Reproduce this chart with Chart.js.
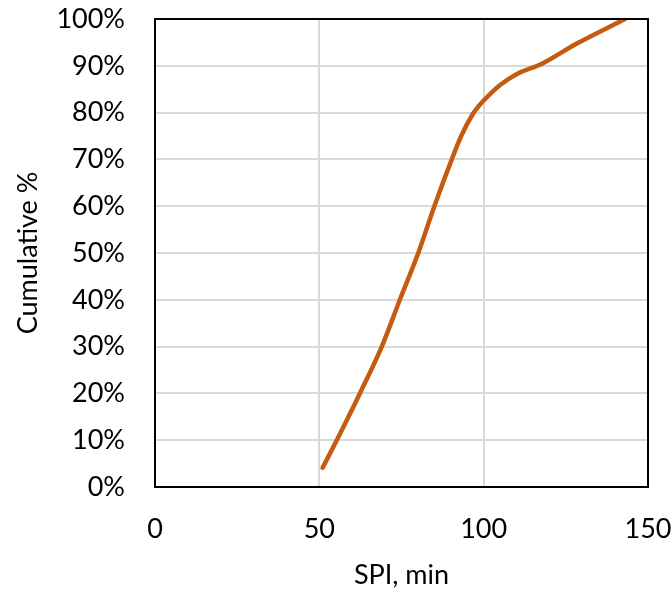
<!DOCTYPE html>
<html>
<head>
<meta charset="utf-8">
<script src="https://cdn.jsdelivr.net/npm/chart.js@4/dist/chart.umd.min.js"></script>
<style>
html,body{margin:0;padding:0;background:#fff;}
#wrap{width:672px;height:593px;position:relative;}
</style>
</head>
<body>
<div id="wrap"><canvas id="c" width="672" height="593"></canvas></div>
<script>
const spiMinutes = [51, 55.3, 62.4, 69, 74.5, 80.1, 85, 90.3, 93.3, 96.8, 98.5, 100.3, 105, 110, 117.9, 128.2, 143];
const cumulativePct = [4.1, 10, 20.1, 30, 40, 50, 60, 70, 75.2, 79.8, 81.4, 82.8, 85.9, 88.2, 90.5, 94.7, 100];
const xTicks = [0, 50, 100, 150];
const yTickStep = 10;

const points = spiMinutes.map((x, i) => ({x: x, y: cumulativePct[i]}));
const FONT = "Lato, 'Open Sans', sans-serif";

const frame = {
  id: 'frame',
  afterDatasetsDraw(chart) {
    const a = chart.chartArea, ctx = chart.ctx;
    ctx.save();
    ctx.strokeStyle = '#000';
    ctx.lineWidth = 2;
    ctx.strokeRect(a.left, a.top, a.right - a.left, a.bottom - a.top);
    ctx.restore();
  }
};
function noPad(s) { s.paddingTop = 0; s.paddingBottom = 0; s.paddingLeft = 0; s.paddingRight = 0; }

new Chart(document.getElementById('c'), {
  type: 'line',
  data: {
    datasets: [{
      data: points,
      borderColor: '#C55A11',
      borderWidth: 4.5,
      pointRadius: 0,
      fill: false,
      cubicInterpolationMode: 'monotone',
      borderCapStyle: 'round'
    }]
  },
  options: {
    responsive: false,
    animation: false,
    layout: {padding: {top: 19, right: 24, left: 0, bottom: 0}},
    plugins: {legend: {display: false}, tooltip: {enabled: false}},
    scales: {
      x: {
        type: 'linear',
        min: 0, max: 150,
        afterBuildTicks(s) { s.ticks = xTicks.map(v => ({value: v})); },
        afterFit(s) { s.height = 106; noPad(s); },
        grid: {color: '#d9d9d9', lineWidth: 2, drawTicks: false},
        border: {display: false},
        ticks: {color: '#000', font: {family: FONT, size: 27}, padding: 26, maxRotation: 0},
        title: {display: true, text: 'SPI, min', color: '#000', font: {family: FONT, size: 27}, padding: {top: 0, bottom: 2}}
      },
      y: {
        min: 0, max: 100,
        afterFit(s) { s.width = 155; noPad(s); },
        grid: {color: '#d9d9d9', lineWidth: 2, drawTicks: false},
        border: {display: false},
        ticks: {stepSize: yTickStep, color: '#000', font: {family: FONT, size: 27}, padding: 30,
                callback: v => v + '%'},
        title: {display: true, text: 'Cumulative %', color: '#000', font: {family: FONT, size: 27}, padding: {top: 12, bottom: 0}}
      }
    }
  },
  plugins: [frame]
});
</script>
</body>
</html>
